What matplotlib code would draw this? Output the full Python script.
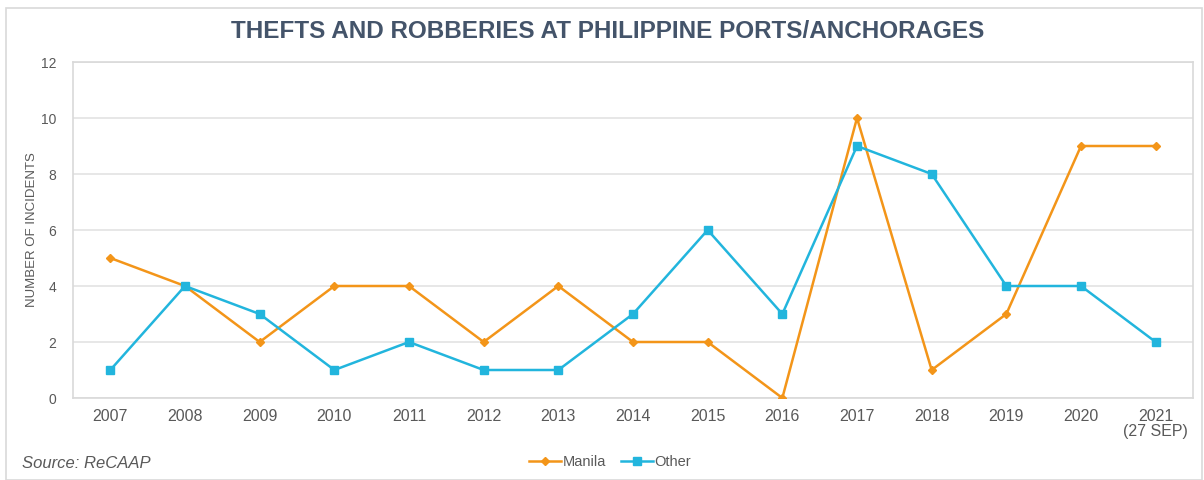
import matplotlib
matplotlib.use("Agg")
import matplotlib.pyplot as plt
from matplotlib.patches import Rectangle

years = ["2007", "2008", "2009", "2010", "2011", "2012", "2013", "2014",
         "2015", "2016", "2017", "2018", "2019", "2020", "2021\n(27 SEP)"]
manila = [5, 4, 2, 4, 4, 2, 4, 2, 2, 0, 10, 1, 3, 9, 9]
other = [1, 4, 3, 1, 2, 1, 1, 3, 6, 3, 9, 8, 4, 4, 2]
yticks = [0, 2, 4, 6, 8, 10, 12]

plt.rcParams['font.family'] = ['Liberation Sans', 'DejaVu Sans']

fig = plt.figure(figsize=(12.04, 4.8), dpi=100)
ax = fig.add_axes([73/1204, 1-398/480, (1193-73)/1204, (398-62)/480])

x = list(range(len(years)))
ax.plot(x, manila, color="#F39519", lw=1.8, marker="D", ms=4.5, label="Manila", zorder=3)
ax.plot(x, other, color="#22B5DD", lw=1.8, marker="s", ms=6, label="Other", zorder=3)

ax.set_xlim(-0.5, len(years)-0.5)
ax.set_ylim(0, 12)
ax.set_yticks(yticks)
ax.set_xticks(x)
ax.set_xticklabels(years, fontsize=11.5, color="#595959", linespacing=1.0)
ax.tick_params(axis='x', length=0, pad=8)
ax.tick_params(axis='y', length=0, pad=12, labelsize=10, labelcolor="#595959")
ax.grid(axis='y', color="#E3E3E3", lw=1.2)
ax.set_axisbelow(True)
for s in ax.spines.values():
    s.set_color("#D9D9D9")
    s.set_linewidth(1.2)

ax.set_ylabel("NUMBER OF INCIDENTS", fontsize=9.5, color="#595959")
ax.yaxis.set_label_coords((38-73)/1120, 0.5)

fig.text(0.505, 1-32/480, "THEFTS AND ROBBERIES AT PHILIPPINE PORTS/ANCHORAGES",
         ha="center", va="center", fontsize=17.5, fontweight="bold", color="#44546A")
fig.text(22/1204, 1-463/480, "Source: ReCAAP", ha="left", va="center",
         fontsize=12, style="italic", color="#595959")

leg = fig.legend(loc="center", bbox_to_anchor=(610/1204, 1-462/480), ncol=2,
                 frameon=False, fontsize=10.5, handlelength=2.2, handletextpad=0.1,
                 columnspacing=1.0, labelcolor="#595959")

fig.add_artist(Rectangle((6/1204, 0), 1-8/1204, 1-8/480, transform=fig.transFigure,
                         fill=False, edgecolor="#D9D9D9", lw=1.2))

fig.savefig("out.png", dpi=100, facecolor="white")
